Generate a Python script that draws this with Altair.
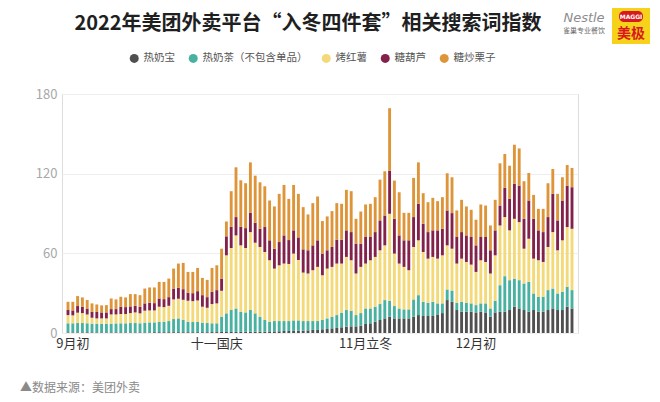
import altair as alt
import pandas as pd

# ---- data (index 0..105 = one bar per day) ----
series_names = ["热奶宝", "热奶茶（不包含单品）", "烤红薯", "糖葫芦", "糖炒栗子"]
series_colors = ["#4f4f4f", "#48b1a0", "#f3d977", "#82214a", "#de9539"]

tick_pos = [1, 31, 62, 85]
tick_text = ["9月初", "十一国庆", "11月立冬", "12月初"]

hot_milk_bao = [
    0.5, 0.5, 0.5, 0.5, 0.5, 0.5, 0.5, 0.5, 0.5, 0.5,
    0.5, 0.5, 0.5, 0.5, 0.5, 0.5, 0.5, 0.5, 0.6, 0.6,
    0.6, 0.6, 0.6, 0.6, 0.6, 0.6, 0.6, 0.6, 0.6, 0.6,
    0.7, 0.7, 0.8, 0.8, 0.8, 0.8, 0.9, 0.9, 1.0, 1.0,
    1.0, 1.0, 1.2, 1.2, 1.3, 1.5, 1.5, 1.6, 1.8, 1.8,
    2.0, 2.3, 2.3, 2.8, 3.0, 3.5, 3.8, 4.3, 4.8, 5.0,
    5.0, 5.5, 6.8, 7.3, 8.5, 9.8, 11.0, 12.3, 11.0, 11.0,
    11.0, 11.0, 12.3, 13.5, 12.8, 12.8, 12.8, 14.0, 15.0, 24.8,
    23.5, 17.3, 16.0, 16.0, 16.0, 15.5, 16.0, 15.5, 12.3, 15.5,
    16.0, 16.0, 17.3, 19.8, 18.5, 17.3, 16.0, 17.3, 16.0, 16.0,
    17.3, 18.5, 17.3, 17.3, 19.8, 18.5,
]
hot_milk_tea = [
    6.8, 6.8, 7.0, 7.0, 6.8, 6.5, 6.5, 6.5, 6.5, 6.5,
    6.7, 6.8, 6.8, 7.0, 7.0, 6.8, 7.3, 7.5, 7.4, 7.7,
    7.9, 8.4, 9.9, 10.4, 9.4, 7.9, 7.7, 7.7, 7.2, 6.9,
    6.6, 6.6, 11.5, 14.0, 16.5, 17.7, 15.1, 14.6, 16.3, 13.8,
    11.3, 8.8, 7.3, 7.8, 7.7, 7.5, 7.5, 7.9, 7.7, 7.2,
    7.0, 6.7, 6.7, 7.0, 8.0, 8.8, 9.7, 11.0, 12.5, 11.8,
    8.5, 9.5, 11.7, 11.2, 11.3, 12.0, 13.8, 12.0, 9.3, 7.5,
    6.8, 6.8, 13.0, 15.0, 10.7, 10.0, 10.7, 8.3, 7.3, 8.0,
    8.5, 5.5, 7.5, 6.8, 6.3, 5.5, 6.3, 6.8, 6.2, 8.8,
    20.0, 26.8, 22.5, 21.2, 21.3, 20.0, 22.5, 12.5, 11.3, 11.3,
    15.0, 15.0, 12.5, 13.7, 15.0, 13.8,
]
sweet_potato = [
    6.2, 6.0, 7.8, 7.5, 6.7, 4.5, 4.0, 4.0, 4.0, 7.0,
    6.8, 7.0, 7.0, 7.5, 8.0, 7.5, 9.0, 9.0, 9.0, 11.5,
    11.0, 11.5, 14.8, 14.8, 15.0, 15.8, 15.7, 16.2, 12.0, 11.5,
    14.5, 15.0, 19.5, 43.7, 46.7, 55.0, 50.0, 48.5, 58.7, 53.2,
    52.5, 51.2, 46.3, 39.5, 42.0, 43.3, 43.0, 50.3, 45.5, 36.5,
    35.8, 38.3, 40.8, 33.7, 37.5, 37.5, 38.8, 37.0, 40.0, 38.0,
    31.3, 34.8, 33.8, 36.3, 37.5, 40.5, 41.2, 65.5, 39.5, 33.8,
    32.0, 29.5, 39.5, 41.3, 37.5, 33.2, 33.8, 33.7, 36.2, 33.2,
    31.5, 29.5, 32.5, 30.7, 29.2, 25.0, 32.5, 31.2, 26.3, 34.2,
    45.0, 44.5, 37.5, 45.0, 43.7, 26.2, 32.5, 26.2, 27.5, 26.2,
    32.5, 42.5, 32.5, 38.8, 45.0, 46.2,
]
tanghulu = [
    3.8, 3.7, 5.0, 4.8, 4.0, 4.5, 4.8, 4.5, 4.5, 4.0,
    4.0, 5.5, 5.2, 5.0, 5.0, 5.0, 5.5, 5.8, 5.5, 6.2,
    6.0, 6.5, 8.2, 8.2, 8.0, 6.0, 6.0, 7.0, 8.7, 8.0,
    9.2, 10.0, 9.2, 14.3, 16.0, 13.8, 14.0, 15.0, 14.5, 15.0,
    13.7, 18.8, 15.0, 15.0, 17.5, 21.2, 18.0, 17.5, 17.0, 17.5,
    17.5, 18.7, 20.0, 16.3, 13.8, 15.0, 18.0, 18.0, 20.0, 21.2,
    22.5, 17.5, 20.0, 17.5, 18.7, 22.5, 22.5, 32.5, 26.2, 21.2,
    20.0, 22.5, 22.5, 27.5, 21.3, 20.0, 20.0, 21.3, 20.0, 26.3,
    26.8, 20.0, 20.0, 20.0, 20.8, 20.0, 17.5, 18.8, 17.5, 18.8,
    15.0, 22.0, 23.7, 26.3, 27.5, 22.5, 28.8, 30.0, 22.5, 22.5,
    22.5, 28.8, 22.5, 30.0, 31.2, 31.3,
]
chestnut = [
    6.2, 6.5, 7.5, 7.0, 6.8, 6.3, 5.7, 5.3, 5.5, 8.0,
    7.3, 7.5, 7.3, 9.3, 8.8, 8.7, 11.2, 11.5, 11.8, 12.5,
    13.0, 14.0, 15.0, 18.3, 19.8, 15.7, 16.0, 17.5, 13.0, 13.0,
    18.0, 18.7, 22.5, 11.2, 26.8, 37.5, 35.0, 33.8, 38.0, 35.5,
    35.0, 30.7, 30.0, 31.8, 36.3, 38.0, 31.0, 34.2, 32.8, 31.8,
    27.0, 31.8, 33.0, 24.5, 25.5, 27.0, 27.5, 27.0, 30.5, 30.8,
    18.7, 24.2, 24.5, 25.0, 26.3, 30.7, 33.3, 47.0, 28.8, 32.5,
    20.7, 20.7, 29.5, 31.2, 23.0, 22.5, 24.5, 22.0, 23.8, 28.0,
    27.0, 20.0, 24.3, 21.8, 20.5, 19.3, 24.5, 23.7, 18.7, 23.0,
    31.8, 25.5, 25.0, 29.5, 28.0, 28.3, 20.7, 18.0, 16.2, 17.5,
    25.5, 18.7, 20.0, 17.5, 15.5, 14.5,
]

title_text = "2022年美团外卖平台“入冬四件套”相关搜索词指数"
source_text = "▲数据来源：美团外卖"

# ---- long table ----
rows = []
all_series = [hot_milk_bao, hot_milk_tea, sweet_potato, tanghulu, chestnut]
for k, (name, vals) in enumerate(zip(series_names, all_series)):
    for i, v in enumerate(vals):
        rows.append({"day": i, "series": name, "k": k, "value": v})
df = pd.DataFrame(rows)

label_expr = " : ".join(
    f"datum.value == {p} ? '{t}'" for p, t in zip(tick_pos, tick_text)
) + " : ''"

FONT = "Noto Sans CJK SC"

bars = alt.Chart(df).mark_bar().encode(
    x=alt.X(
        "day:O",
        scale=alt.Scale(paddingInner=0.4, paddingOuter=0.95),
        axis=alt.Axis(
            values=tick_pos, labelExpr=label_expr, title=None, domain=False,
            ticks=False, labelAngle=0, labelFontSize=13, labelColor="#333333",
            labelPadding=4, grid=False, labelFont=FONT,
        ),
    ),
    y=alt.Y(
        "value:Q",
        stack="zero",
        scale=alt.Scale(domain=[0, 180], nice=False),
        axis=alt.Axis(
            values=[0, 60, 120, 180], title=None, domain=False, ticks=False,
            labelFontSize=13, labelColor="#a8a8a8", labelPadding=5,
            gridColor="#eeeeee", labelFont=FONT,
        ),
    ),
    color=alt.Color(
        "series:N",
        scale=alt.Scale(domain=series_names, range=series_colors),
        legend=alt.Legend(
            title=None, orient="none", direction="horizontal",
            legendX=67, legendY=-41, symbolType="circle", symbolSize=81,
            symbolStrokeWidth=0, symbolOpacity=1, labelFontSize=10.5,
            labelColor="#555555", labelFont=FONT, columnPadding=13,
            labelOffset=4, padding=0,
        ),
    ),
    order=alt.Order("k:Q", sort="ascending"),
)

title = alt.Chart(pd.DataFrame({"t": [title_text]})).mark_text(
    align="center", baseline="middle", fontSize=20, color="#1f1f1f",
    font=FONT, fontWeight="bold"
).encode(text="t:N", x=alt.value(246), y=alt.value(-70))

source = alt.Chart(pd.DataFrame({"t": [source_text]})).mark_text(
    align="left", baseline="middle", fontSize=12, color="#8a8a8a", font=FONT
).encode(text="t:N", x=alt.value(-42), y=alt.value(294))

nestle = alt.Chart(pd.DataFrame({"t": ["Nestle"]})).mark_text(
    align="center", baseline="middle", fontSize=13, color="#8c8c8c",
    font="DejaVu Sans", fontStyle="italic"
).encode(text="t:N", x=alt.value(522), y=alt.value(-76))
nestle_sub = alt.Chart(pd.DataFrame({"t": ["雀巢专业餐饮"]})).mark_text(
    align="center", baseline="middle", fontSize=7, color="#6b6b6b", font=FONT
).encode(text="t:N", x=alt.value(522), y=alt.value(-63))
maggi_box = alt.Chart(pd.DataFrame({"t": [1]})).mark_rect(color="#f7d21a").encode(
    x=alt.value(550), x2=alt.value(588), y=alt.value(-86), y2=alt.value(-50)
)
maggi_oval = alt.Chart(pd.DataFrame({"t": [1]})).mark_rect(
    color="#d7191f", cornerRadius=5
).encode(x=alt.value(557), x2=alt.value(581), y=alt.value(-83), y2=alt.value(-72))
maggi_word = alt.Chart(pd.DataFrame({"t": ["MAGGI"]})).mark_text(
    align="center", baseline="middle", fontSize=6, color="#ffffff",
    font="DejaVu Sans", fontWeight="bold"
).encode(text="t:N", x=alt.value(569), y=alt.value(-77.5))
maggi_cn = alt.Chart(pd.DataFrame({"t": ["美极"]})).mark_text(
    align="center", baseline="middle", fontSize=14, color="#d7191f",
    font=FONT, fontWeight="bold"
).encode(text="t:N", x=alt.value(569), y=alt.value(-60))

chart = alt.layer(
    bars, title, source, nestle, nestle_sub, maggi_box, maggi_oval, maggi_word, maggi_cn
).properties(
    width=516,
    height=239,
    autosize=alt.AutoSizeParams(type="none"),
    padding={"left": 54, "top": 86, "right": 74, "bottom": 62},
).configure_view(stroke=None).configure(background="#ffffff")

chart.save("out.html", embed_options={"renderer": "svg", "actions": False})
